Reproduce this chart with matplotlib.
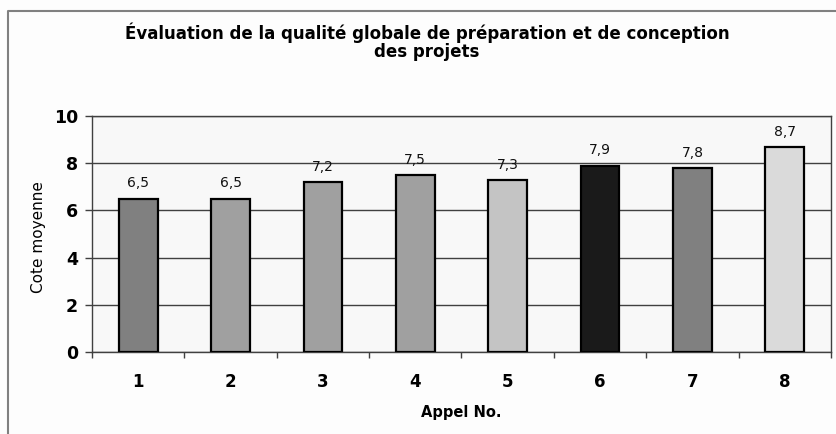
import matplotlib
matplotlib.use("Agg")
import matplotlib.pyplot as plt
from matplotlib.lines import Line2D
from matplotlib.ticker import FixedLocator

categories = ["1", "2", "3", "4", "5", "6", "7", "8"]
values = [6.5, 6.5, 7.2, 7.5, 7.3, 7.9, 7.8, 8.7]
bar_colors = ["#808080", "#a0a0a0", "#a0a0a0", "#a0a0a0", "#c4c4c4", "#1a1a1a", "#808080", "#dadada"]
title = "Évaluation de la qualité globale de préparation et de conception\ndes projets"
xlabel = "Appel No."
ylabel = "Cote moyenne"
yticks = [0, 2, 4, 6, 8, 10]

W, H = 837, 434
fig = plt.figure(figsize=(W / 100, H / 100), dpi=100)
fig.patch.set_facecolor("#fdfdfd")
plt.rcParams["font.family"] = ["DejaVu Sans"]

ax = fig.add_axes([92 / W, (H - 352) / H, 739 / W, 236 / H])
ax.set_facecolor("#f8f8f8")

x = list(range(len(categories)))
ax.bar(x, values, width=0.42, color=bar_colors, edgecolor="black", linewidth=1.6, zorder=3)

for xi, v in zip(x, values):
    ax.annotate(f"{v:.1f}".replace(".", ","), xy=(xi, v), xytext=(0, 8),
                textcoords="offset points", ha="center", va="baseline",
                fontsize=10, color="#111111", zorder=4)

ax.set_xlim(-0.5, len(categories) - 0.5)
ax.set_ylim(0, 10)
ax.set_yticks(yticks)
ax.set_yticklabels([str(t) for t in yticks], fontsize=12.5, fontweight="bold")
ax.set_xticks(x)
ax.set_xticklabels(categories, fontsize=12, fontweight="bold")
ax.xaxis.set_minor_locator(FixedLocator([i - 0.5 for i in range(len(categories) + 1)]))
ax.tick_params(axis="x", which="major", length=0, pad=15)
ax.tick_params(axis="x", which="minor", length=4, width=1, color="#404040", direction="out")
ax.tick_params(axis="y", which="major", length=5, width=1, color="#404040", direction="out", pad=5)

ax.grid(axis="y", color="#404040", linewidth=1.0, zorder=1)
ax.set_axisbelow(True)
for s in ax.spines.values():
    s.set_color("#404040")
    s.set_linewidth(1.0)

ax.set_xlabel(xlabel, fontsize=10.5, fontweight="bold", labelpad=10)
fig.text(38.5 / W, 1 - 237 / H, ylabel, rotation=90, ha="center", va="center", fontsize=11)

fig.text(427 / W, 1 - 41.5 / H, title, ha="center", va="center", fontsize=12,
         fontweight="bold", linespacing=1.0)

# outer chart frame (left and top edges visible)
fig.add_artist(Line2D([8.5 / W, 8.5 / W, 1.0], [0.0, 1 - 11 / H, 1 - 11 / H],
                      transform=fig.transFigure, color="#808080", linewidth=1.5))

fig.savefig("out.png", dpi=100, facecolor=fig.get_facecolor())
